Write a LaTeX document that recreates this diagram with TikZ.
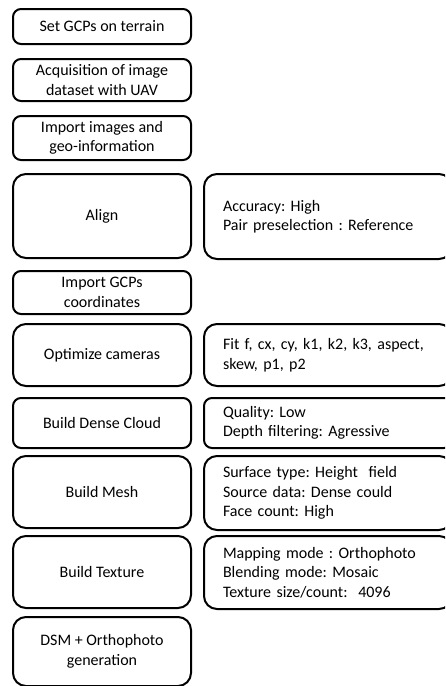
\documentclass[tikz,border=0pt]{standalone}
\usepackage{fontspec}
\setmainfont{Carlito}
\frenchspacing
\begin{document}
\begin{tikzpicture}[x=1pt,y=-1pt,
  every node/.style={font=\fontsize{16}{19.5}\selectfont},
  box/.style={draw=black, line width=2pt, rounded corners=8pt, anchor=north west, inner sep=0pt},
  lbox/.style={box, minimum width=178pt, align=center},
  rbox/.style={box, minimum width=248pt, text width=210pt, inner xsep=19pt, align=left},
  big/.style={rounded corners=13pt}
]
\useasboundingbox (0,0) rectangle (445,686);
\clip (0,0) rectangle (445,686);
% left column
\node[lbox, minimum height=35pt] (gcp) at (12,8) {Set GCPs on terrain};
\node[lbox, minimum height=42pt] (acq) at (12,58) {Acquisition of image\\dataset with UAV};
\node[lbox, minimum height=44pt] (imp) at (12,115) {Import images and\\geo-information};
\node[lbox, big, minimum height=84pt] (align) at (12,173) {Align};
\node[lbox, minimum height=43pt] (impgcp) at (12,270) {Import GCPs\\coordinates};
\node[lbox, big, minimum height=62pt] (opt) at (12,323) {Optimize cameras};
\node[lbox, minimum height=50pt] (dense) at (12,397) {Build Dense Cloud};
\node[lbox, big, minimum height=72pt] (mesh) at (12,455) {Build Mesh};
\node[lbox, big, minimum height=72pt] (tex) at (12,535) {Build Texture};
\node[lbox, big, minimum height=69pt] (dsm) at (12,616) {DSM + Orthophoto\\generation};
% right column
\node[rbox, big, minimum height=85pt] (alignp) at (203,173) {Accuracy: High\\Pair preselection : Reference};
\node[rbox, big, minimum height=62pt] (optp) at (203,323) {Fit f, cx, cy, k1, k2, k3, aspect,\\skew, p1, p2};
\node[rbox, minimum height=50pt] (densep) at (203,397) {Quality: Low\\Depth filtering: Agressive};
\node[rbox, big, minimum height=74pt] (meshp) at (203,455) {Surface type: Height\ \ field\\Source data: Dense could\\Face count: High};
\node[rbox, big, minimum height=73pt] (texp) at (203,535) {Mapping mode : Orthophoto\\Blending mode: Mosaic\\Texture size/count:\ \ 4096};
\end{tikzpicture}
\end{document}
